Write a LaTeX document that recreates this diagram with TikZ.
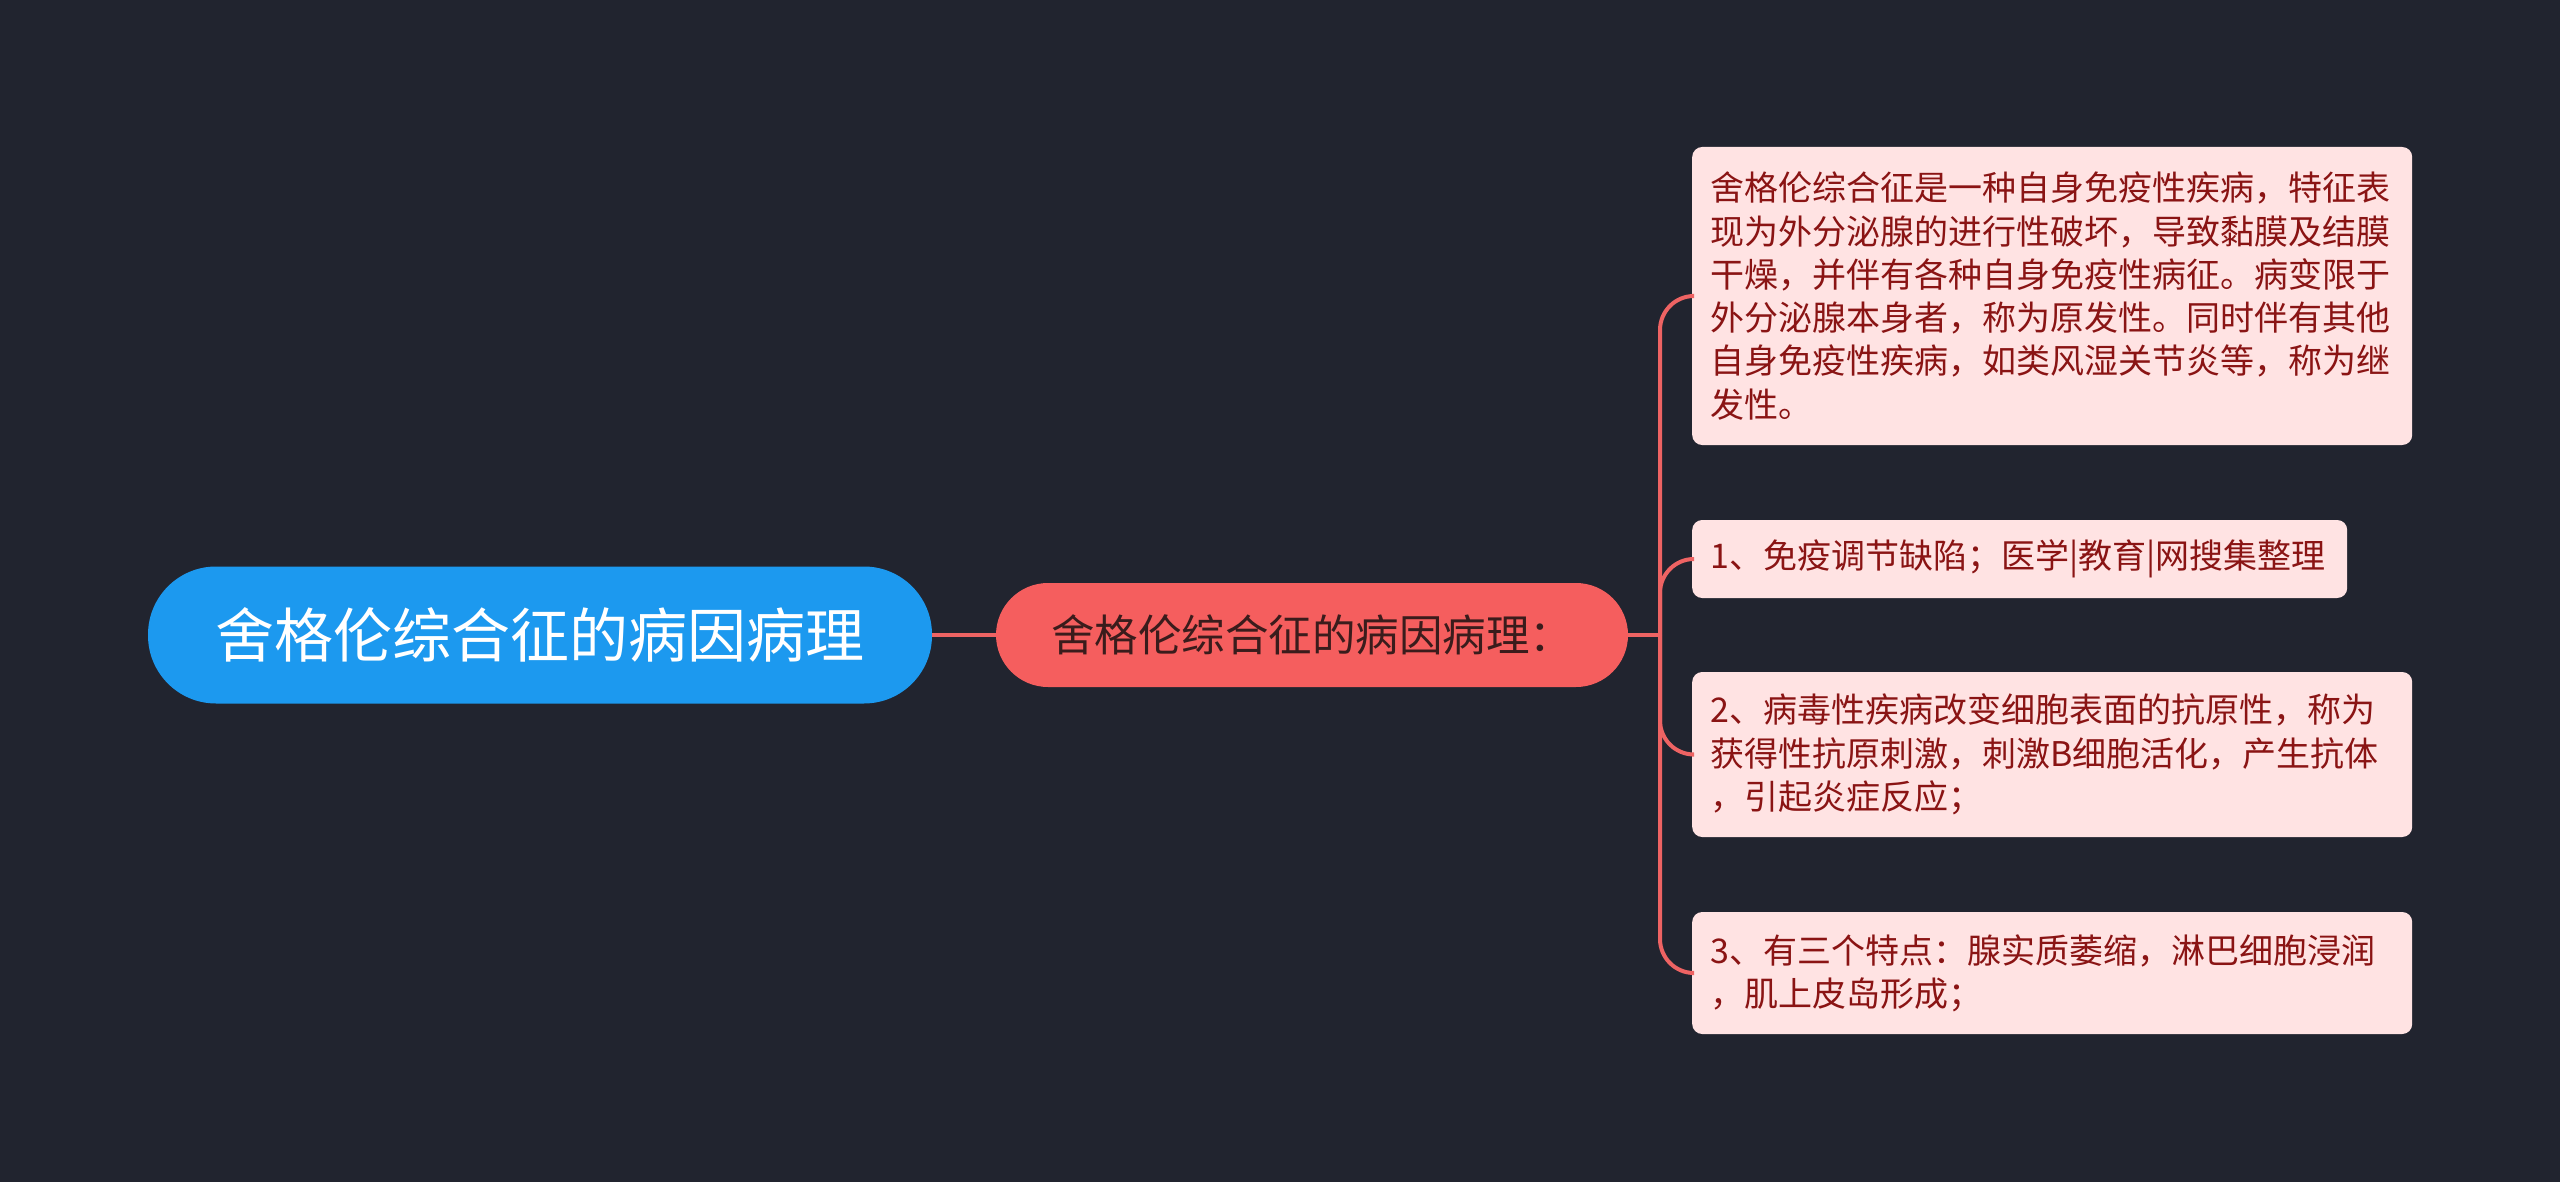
\documentclass[tikz,border=0pt]{standalone}
\usepackage{fontspec}
\setmainfont{Noto Sans CJK SC}
\definecolor{bgc}{HTML}{21242F}
\definecolor{rootc}{HTML}{1C99EF}
\definecolor{midc}{HTML}{F55E5E}
\definecolor{leafc}{HTML}{FFE3E3}
\definecolor{leaftext}{HTML}{8A1414}
\definecolor{midtext}{HTML}{3A1C1C}
\definecolor{connc}{HTML}{EE6363}
\begin{document}
\begin{tikzpicture}[x=1pt,y=-1pt,
  rootbox/.style={fill=rootc, text=white, rounded corners=68pt, minimum width=784pt, minimum height=137pt, inner sep=0pt, font=\fontsize{59}{70}\selectfont},
  midbox/.style={fill=midc, text=midtext, rounded corners=52pt, minimum width=632pt, minimum height=104pt, inner sep=0pt, font=\fontsize{43.5}{52}\selectfont},
  leafbox/.style={fill=leafc, text=leaftext, rounded corners=10pt, anchor=west, inner xsep=18pt, inner ysep=0pt, align=left, font=\fontsize{34}{43.3}\selectfont},
  conn/.style={draw=connc, line width=4pt}]
\useasboundingbox[fill=bgc] (0,0) rectangle (2560,1182);

\node[rootbox] (root) at (540,635) {舍格伦综合征的病因病理};
\node[midbox] (mid) at (1312,635) {舍格伦综合征的病因病理：};

\node[leafbox, text width=684pt, minimum height=298pt] (l1) at (1692,296) {舍格伦综合征是一种自身免疫性疾病，特征表\\现为外分泌腺的进行性破坏，导致黏膜及结膜\\干燥，并伴有各种自身免疫性病征。病变限于\\外分泌腺本身者，称为原发性。同时伴有其他\\自身免疫性疾病，如类风湿关节炎等，称为继\\发性。};
\node[leafbox, text width=619pt, minimum height=78pt] (l2) at (1692,559) {1、免疫调节缺陷；医学|教育|网搜集整理};
\node[leafbox, text width=684pt, minimum height=165pt] (l3) at (1692,754.5) {2、病毒性疾病改变细胞表面的抗原性，称为\\获得性抗原刺激，刺激B细胞活化，产生抗体\\，引起炎症反应；};
\node[leafbox, text width=684pt, minimum height=122pt] (l4) at (1692,973) {3、有三个特点：腺实质萎缩，淋巴细胞浸润\\，肌上皮岛形成；};

\coordinate (j) at (1660,635);
\draw[conn] (root.east) -- (mid.west);
\draw[conn] (mid.east) -- (j);
\foreach \t in {l1,l2,l3,l4}{
  \draw[conn, rounded corners=34pt] (j) |- (\t.west);
}
\end{tikzpicture}
\end{document}
